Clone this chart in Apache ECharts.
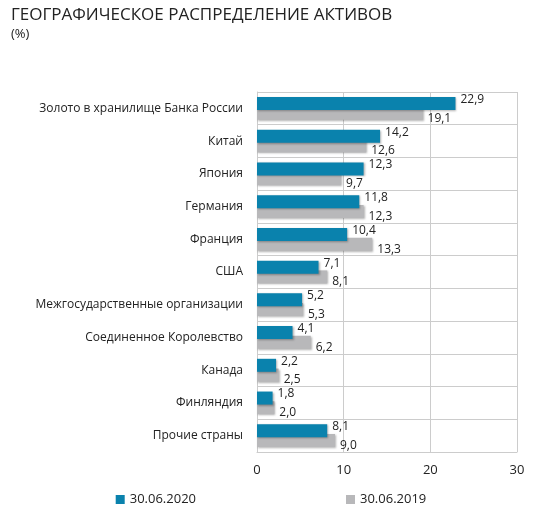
<!DOCTYPE html>
<html><head><meta charset="utf-8">
<script src="https://cdn.jsdelivr.net/npm/echarts@6/dist/echarts.min.js"></script>
<style>body{margin:0;background:#fff}#c{width:542px;height:519px}</style>
</head><body><div id="c"></div>
<script>
var categories = ['Золото в хранилище Банка России','Китай','Япония','Германия','Франция','США','Межгосударственные организации','Соединенное Королевство','Канада','Финляндия','Прочие страны'];
var values2020 = [22.9,14.2,12.3,11.8,10.4,7.1,5.2,4.1,2.2,1.8,8.1];
var values2019 = [19.1,12.6,9.7,12.3,13.3,8.1,5.3,6.2,2.5,2.0,9.0];
var xTicks = [0,10,20,30];

var chart = echarts.init(document.getElementById('c'));
var fmt = function(p){ return p.value.toFixed(1).replace('.', ','); };
chart.setOption({
  animation: false,
  title: {
    text: 'ГЕОГРАФИЧЕСКОЕ РАСПРЕДЕЛЕНИЕ АКТИВОВ', subtext: '(%)',
    left: 6, top: 2, itemGap: 4,
    textStyle: {fontFamily: 'Open Sans', fontSize: 17, fontWeight: 500, color: '#222'},
    subtextStyle: {fontFamily: 'Open Sans', fontSize: 13, color: '#222'}
  },
  legend: {
    bottom: 8, itemGap: 150, icon: 'rect', itemWidth: 9, itemHeight: 9,
    textStyle: {fontFamily: 'Open Sans', fontSize: 13, color: '#222'}
  },
  grid: {left: 257, right: 25, top: 92, bottom: 67},
  xAxis: {
    type: 'value', min: 0, max: 30, interval: 10,
    axisLabel: {fontFamily: 'Open Sans', fontSize: 13, color: '#222', margin: 12,
      formatter: function(v){ return xTicks.indexOf(v) >= 0 ? v : ''; }},
    splitLine: {lineStyle: {color: '#ccc'}}, axisLine: {show: true, lineStyle: {color: '#ccc'}}, axisTick: {show: false}
  },
  yAxis: {
    type: 'category', data: categories, inverse: true,
    axisLabel: {fontFamily: 'Open Sans', fontSize: 12, color: '#222', margin: 14},
    axisTick: {show: false}, axisLine: {show: true, lineStyle: {color: '#ccc'}},
    splitLine: {show: true, interval: 0, lineStyle: {color: '#ccc'}}
  },
  series: [
    {name: '30.06.2020', type: 'bar', data: values2020, barWidth: 13, barGap: '-25%',
      itemStyle: {color: '#0a82ad', shadowColor: 'rgba(0,0,0,0.3)', shadowOffsetX: 1, shadowOffsetY: 1, shadowBlur: 2}, z: 3,
      label: {show: true, position: 'right', offset: [0, -4], formatter: fmt, fontFamily: 'Open Sans', fontSize: 12, color: '#222'}},
    {name: '30.06.2019', type: 'bar', data: values2019, barWidth: 13,
      itemStyle: {color: '#b8b8ba', shadowColor: 'rgba(0,0,0,0.3)', shadowOffsetX: 1, shadowOffsetY: 1, shadowBlur: 2}, z: 2,
      label: {show: true, position: 'right', offset: [0, 5], formatter: fmt, fontFamily: 'Open Sans', fontSize: 12, color: '#222'}}
  ]
});
</script></body></html>
